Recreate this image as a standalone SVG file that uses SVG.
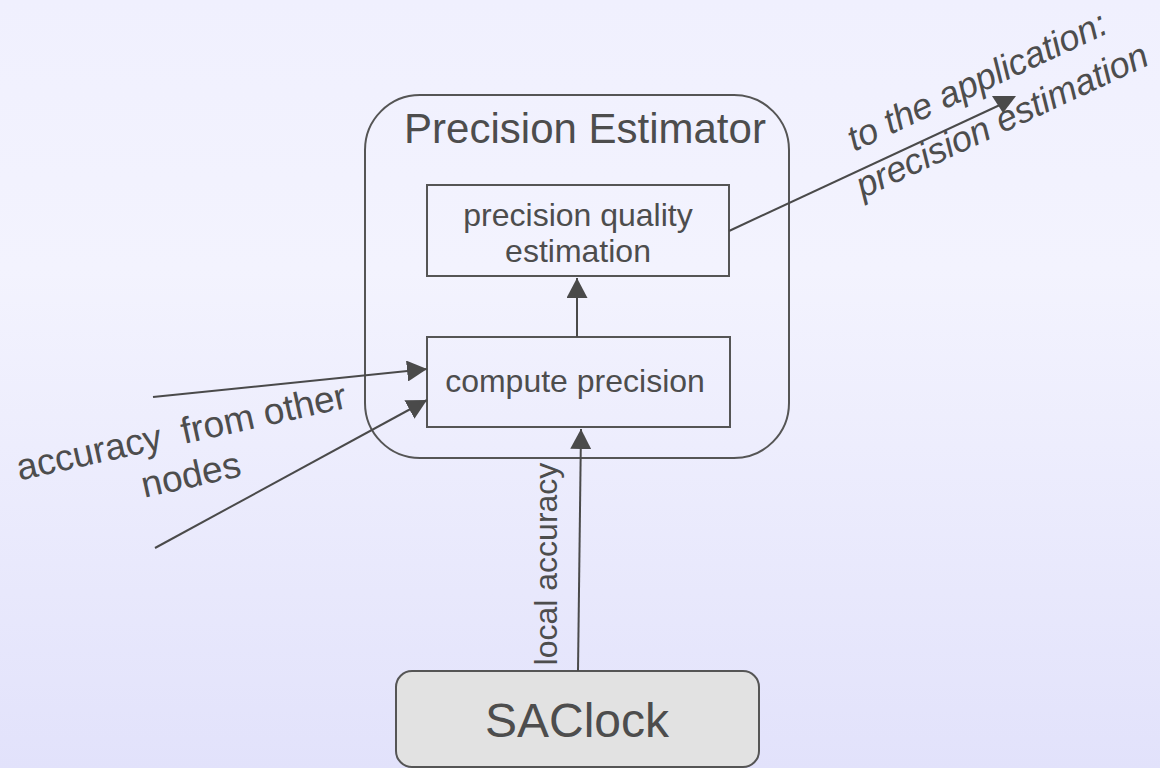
<svg xmlns="http://www.w3.org/2000/svg" width="1160" height="768" viewBox="0 0 1160 768">
<defs>
<linearGradient id="bg" x1="0" y1="0" x2="0" y2="1">
<stop offset="0" stop-color="#f0f0fe"/>
<stop offset="0.35" stop-color="#f3f3fe"/>
<stop offset="1" stop-color="#e2e2fb"/>
</linearGradient>
<marker id="ah" viewBox="0 0 20 21" refX="20" refY="10.5" markerWidth="20" markerHeight="21" markerUnits="userSpaceOnUse" orient="auto">
<path d="M0,0 L20,10.5 L0,21 Z" fill="#4a4a4a"/>
</marker>
<style>
.t{font-family:"Liberation Sans",Arial,sans-serif;fill:#4d4d4d;text-anchor:middle}
.box{fill:none;stroke:#555;stroke-width:2}
.c{fill:none;stroke:#4a4a4a;stroke-width:2}
</style>
</defs>
<rect width="1160" height="768" fill="url(#bg)"/>

<g id="precision-estimator">
<rect class="box" x="365" y="95" width="424" height="363" rx="55" ry="55"/>
<text class="t" x="585" y="143" font-size="42">Precision Estimator</text>
</g>

<g id="precision-quality">
<rect class="box" x="427" y="185" width="302" height="91"/>
<text class="t" x="578" y="226" font-size="32">precision quality</text>
<text class="t" x="578" y="262" font-size="32">estimation</text>
</g>

<g id="compute-precision">
<rect class="box" x="427" y="337" width="303" height="90"/>
<text class="t" x="575" y="392" font-size="32">compute precision</text>
</g>

<g id="saclock">
<rect x="396" y="671" width="363" height="96" rx="16" ry="16" fill="#e2e2e2" stroke="#555" stroke-width="2"/>
<text class="t" x="577" y="737" font-size="48">SAClock</text>
</g>

<g id="connectors">
<line class="c" x1="577" y1="337" x2="577" y2="278" marker-end="url(#ah)"/>
<line class="c" x1="578" y1="671" x2="581" y2="429" marker-end="url(#ah)"/>
<line class="c" x1="153" y1="397" x2="427" y2="369" marker-end="url(#ah)"/>
<line class="c" x1="155" y1="548" x2="427" y2="400" marker-end="url(#ah)"/>
<line class="c" x1="729" y1="231" x2="1002" y2="104"/>
<polygon points="992,96 1016,96 1003,113" fill="#4a4a4a"/>
</g>

<g id="labels">
<text class="t" font-size="32" transform="translate(557,564) rotate(-90)">local accuracy</text>
<g transform="translate(184,444) rotate(-12.5)">
<text class="t" font-size="37" x="0" y="0" xml:space="preserve">accuracy  from other</text>
<text class="t" font-size="37" x="0" y="44">nodes</text>
</g>
<g transform="translate(982,92) rotate(-25)">
<text class="t" font-size="36" font-style="italic" x="0" y="0">to the application:</text>
<text class="t" font-size="36" font-style="italic" x="6" y="46">precision estimation</text>
</g>
</g>
</svg>
